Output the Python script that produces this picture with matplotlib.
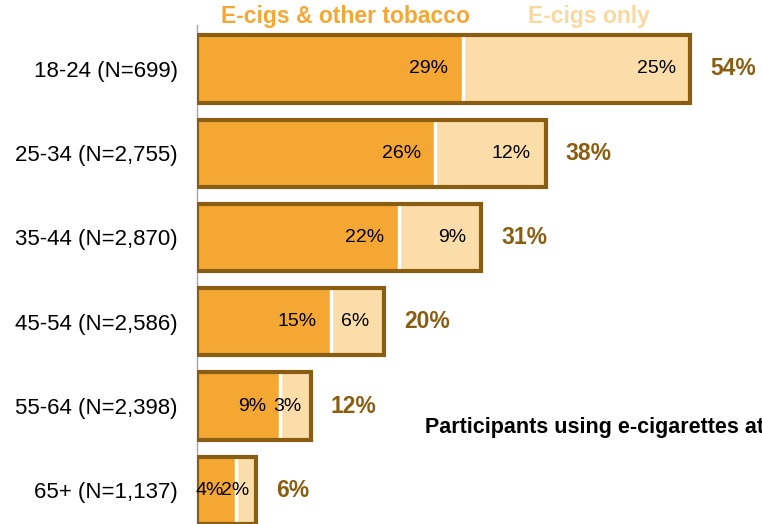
import matplotlib.pyplot as plt

plt.rcParams['font.family'] = ['Liberation Sans', 'DejaVu Sans']

groups = ['18-24 (N=699)', '25-34 (N=2,755)', '35-44 (N=2,870)',
          '45-54 (N=2,586)', '55-64 (N=2,398)', '65+ (N=1,137)']
# (labels are the rounded values)
ecig_other = [29.0, 26.0, 22.0, 14.6, 9.1, 4.2]
ecig_only = [24.8, 12.0, 9.0, 5.8, 3.3, 2.2]
totals = [54, 38, 31, 20, 12, 6]

orange = '#F4A833'
light = '#FBDDAA'
brown = '#8A5E12'

fig = plt.figure(figsize=(7.62, 5.24), dpi=100)
ax = fig.add_axes([0.2585, 0.0, 0.7415, 0.952])

y = list(range(len(groups)))
h = 0.8
ends = [a + b for a, b in zip(ecig_other, ecig_only)]
ax.barh(y, ecig_other, height=h, color=orange, edgecolor='none', zorder=2)
ax.barh(y, ecig_only, left=ecig_other, height=h, color=light, edgecolor='none', zorder=2)
# white split line + brown outline round each whole bar
for i in y:
    ax.plot([ecig_other[i], ecig_other[i]], [i - h / 2 + 0.03, i + h / 2 - 0.03],
            color='white', lw=2.5, zorder=3)
ax.barh(y, ends, height=h, fill=False, edgecolor=brown, linewidth=3, zorder=4)

for i in y:
    a, b, t = ecig_other[i], ecig_only[i], totals[i]
    ax.text(a - min(1.6, 0.3 * a), i, f'{round(a)}%', ha='right', va='center',
            fontsize=14, zorder=5)
    ax.text(a + b - min(1.6, 0.3 * b), i, f'{round(b)}%', ha='right', va='center',
            fontsize=14, zorder=5)
    ax.text(ends[i] + 2.2, i, f'{t}%', ha='left', va='center', fontsize=16.5,
            fontweight='bold', color=brown)

ax.set_xlim(0, 61.6)
ax.set_ylim(5.4, -0.52)
ax.set_yticks(y)
ax.set_yticklabels(groups, fontsize=16)
ax.tick_params(axis='y', length=0, pad=14)
ax.set_xticks([])
for s in ['top', 'right', 'bottom']:
    ax.spines[s].set_visible(False)
ax.spines['left'].set_color('#A6A6A6')
ax.spines['left'].set_linewidth(1)

fig.text(345 / 762, 1 - 16 / 524, 'E-cigs & other tobacco', ha='center', va='center',
         fontsize=16.5, fontweight='bold', color=orange)
fig.text(589 / 762, 1 - 16 / 524, 'E-cigs only', ha='center', va='center',
         fontsize=16.5, fontweight='bold', color='#FAD9A0')
fig.text(425 / 762, 1 - 427 / 524, 'Participants using e-cigarettes at each age',
         ha='left', va='center', fontsize=15.5, fontweight='bold', color='black')

fig.savefig('out.png', dpi=100)
